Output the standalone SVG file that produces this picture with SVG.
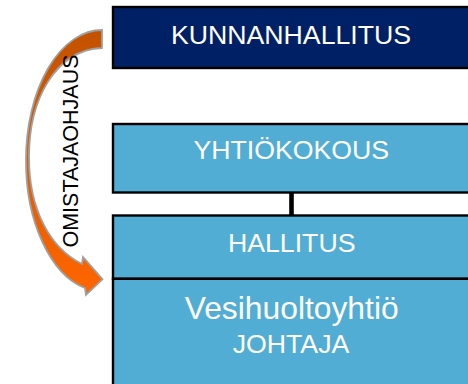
<svg xmlns="http://www.w3.org/2000/svg" width="468" height="384" viewBox="0 0 468 384">
<style>
.box{stroke:#000;stroke-width:2.4}
.navy{fill:#002066}
.light{fill:#52ADD5}
.lbl{font-family:"Liberation Sans",Arial,sans-serif;fill:#fff;text-anchor:middle;font-size:26.7px}
.side{font-family:"Liberation Sans",Arial,sans-serif;fill:#000;text-anchor:middle;font-size:21.5px}
</style>
<defs>
<linearGradient id="og" gradientUnits="userSpaceOnUse" x1="0" y1="30" x2="0" y2="296">
<stop offset="0" stop-color="#C25200"/>
<stop offset="1" stop-color="#FF6600"/>
</linearGradient>
</defs>
<rect width="468" height="384" fill="#fff"/>
<g id="connectors">
<line x1="291.5" y1="192" x2="291.5" y2="216" stroke="#000" stroke-width="4.6"/>
</g>
<g id="omistajaohjaus">
<path d="M102,30 A76,130 0 0 0 26,160 A76,130 0 0 0 85,288 L86,295 L102.5,279.3 L83,257 L82,264 C50,248 29,210 29,157 C29,100 55,50 102,48 Z" fill="url(#og)" stroke="#A0A0A0" stroke-width="1.8" stroke-linejoin="miter"/>
<text class="side" transform="translate(77.7,151) rotate(-90)">OMISTAJAOHJAUS</text>
</g>
<g id="kunnanhallitus">
<rect class="box navy" x="113" y="7" width="360" height="61"/>
<text class="lbl" x="291" y="44.3">KUNNANHALLITUS</text>
</g>
<g id="yhtiokokous">
<rect class="box light" x="113" y="124" width="360" height="68.5"/>
<text class="lbl" x="291.3" y="159.3">YHTIÖKOKOUS</text>
</g>
<g id="hallitus">
<rect class="box light" x="113" y="215.5" width="360" height="63.3"/>
<text class="lbl" x="291.7" y="251.7">HALLITUS</text>
</g>
<g id="johtaja">
<rect class="box light" x="113" y="278.8" width="360" height="130"/>
<text class="lbl" x="291.7" y="319.3" style="font-size:31.8px">Vesihuoltoyhtiö</text>
<text class="lbl" x="291" y="353.3">JOHTAJA</text>
</g>
</svg>
